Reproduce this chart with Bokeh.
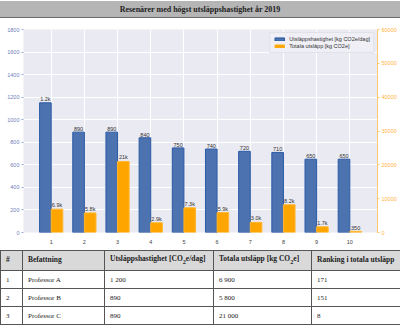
from bokeh.plotting import figure
from bokeh.models import (Range1d, LinearAxis, FixedTicker, Div, Legend, LegendItem,
                          ColumnDataSource)
from bokeh.layouts import column
from bokeh.embed import file_html
from bokeh.resources import INLINE

# ---- data ----
ranks = [1, 2, 3, 4, 5, 6, 7, 8, 9, 10]
rate = [1150, 890, 890, 840, 750, 740, 720, 710, 650, 650]          # kg CO2e/dag
rate_labels = ["1.2k", "890", "890", "840", "750", "740", "720", "710", "650", "650"]
total = [6900, 5800, 21000, 2900, 7300, 5900, 3000, 8200, 1700, 350]  # kg CO2e
total_labels = ["6.9k", "5.8k", "21k", "2.9k", "7.3k", "5.9k", "3.0k", "8.2k", "1.7k", "350"]
left_ticks = [0, 200, 400, 600, 800, 1000, 1200, 1400, 1600, 1800]
right_ticks = [0, 10000, 20000, 30000, 40000, 50000, 60000]

table_rows = [
    ["1", "Professor A", "1 200", "6 900", "171"],
    ["2", "Professor B", "890", "5 800", "151"],
    ["3", "Professor C", "890", "21 000", "8"],
]

title_text = "Resenärer med högst utsläppshastighet år 2019"
BW = 0.35

# ---- title bar ----
title_div = Div(
    text=f"<div style='width:400px;height:17px;background:#b5b5b5;border-bottom:1px solid #6a6a6a;"
         f"font-family:\"Liberation Serif\";font-weight:bold;font-size:8px;color:#222;"
         f"text-align:center;line-height:18px;'>{title_text}</div>",
    width=400, height=18, margin=0)

# ---- chart ----
p = figure(width=400, height=231, output_backend="svg", toolbar_location=None,
           x_range=Range1d(0.165, 10.835), y_range=Range1d(0, 1800),
           min_border_left=23, min_border_right=23, min_border_top=11, min_border_bottom=17,
           background_fill_color="#eaeaf2", border_fill_color="white", outline_line_color=None)
p.extra_y_ranges = {"right": Range1d(0, 60000)}

src = ColumnDataSource(dict(
    xb=[r - BW / 2 for r in ranks], xo=[r + BW / 2 for r in ranks],
    rate=rate, total=total, rl=rate_labels, tl=total_labels))

rb = p.vbar(x="xb", top="rate", width=BW, source=src, fill_color="#4c72b0",
            line_color="#2a5aa6", line_width=1)
ob = p.vbar(x="xo", top="total", width=BW, source=src, fill_color="#ffa500",
            line_color="#ffb733", line_width=1, y_range_name="right")

p.text(x="xb", y="rate", text="rl", source=src, text_align="center", text_baseline="bottom",
       y_offset=-1, text_font_size="5.5px", text_color="#333333")
p.text(x="xo", y="total", text="tl", source=src, text_align="center", text_baseline="bottom",
       y_offset=-1, text_font_size="5.5px", text_color="#333333", y_range_name="right")

p.grid.grid_line_color = "white"
p.grid.grid_line_width = 1
p.xaxis.ticker = FixedTicker(ticks=ranks)
p.xgrid.ticker = FixedTicker(ticks=ranks)
p.yaxis.ticker = FixedTicker(ticks=left_ticks)
p.ygrid.ticker = FixedTicker(ticks=left_ticks)

for ax in p.xaxis:
    ax.axis_line_color = None
    ax.major_tick_line_color = None
    ax.minor_tick_line_color = None
    ax.major_label_text_font_size = "5.5px"
    ax.major_label_text_color = "#444444"
    ax.major_label_standoff = 1

for ax in p.yaxis:
    ax.axis_line_color = None
    ax.major_tick_line_color = "#9aaad2"
    ax.major_tick_out = 2
    ax.major_tick_in = 0
    ax.minor_tick_line_color = None
    ax.major_label_text_font_size = "5.5px"
    ax.major_label_text_color = "#6f80b8"
    ax.major_label_standoff = 2

rax = LinearAxis(y_range_name="right", ticker=FixedTicker(ticks=right_ticks))
rax.axis_line_color = "#ffc870"
rax.major_tick_line_color = "#ffc870"
rax.major_tick_out = 2
rax.major_tick_in = 0
rax.minor_tick_line_color = None
rax.major_label_text_font_size = "5.5px"
rax.major_label_text_color = "#ffb340"
rax.major_label_standoff = 2
p.add_layout(rax, "right")

legend = Legend(items=[
    LegendItem(label="Utsläppshastighet [kg CO2e/dag]", renderers=[rb]),
    LegendItem(label="Totala utsläpp [kg CO2e]", renderers=[ob]),
], location="top_right")
legend.label_text_font_size = "5.5px"
legend.label_text_color = "#333333"
legend.glyph_height = 4
legend.glyph_width = 12
legend.label_height = 6
legend.label_standoff = 4
legend.spacing = 1
legend.padding = 3
legend.margin = 3
legend.background_fill_color = "#f0f0f5"
legend.background_fill_alpha = 0.9
legend.border_line_color = "#d4d4dc"
p.add_layout(legend)

# ---- table ----
cols = [22, 82, 109, 98, 89]
hdr = ["#", "Befattning", "Utsläppshastighet [CO<sub>2</sub>e/dag]",
       "Totala utsläpp [kg CO<sub>2</sub>e]", "Ranking i totala utsläpp"]
cell = ("border:1px solid #555;padding:0 0 0 5px;text-align:left;vertical-align:middle;"
        "color:#222222;white-space:nowrap;overflow:hidden;")
html = ["<table style='border-collapse:collapse;width:400px;table-layout:fixed;"
        "font-family:\"Liberation Serif\";font-size:7px;color:#222222;margin-top:1px;'>"]
html.append("<colgroup>" + "".join(f"<col style='width:{w}px'>" for w in cols) + "</colgroup>")
html.append("<tr style='height:20px;background:#d9d9d9;font-weight:bold;font-size:7.5px;'>" +
            "".join(f"<td style='{cell}'>{h}</td>" for h in hdr) + "</tr>")
for row in table_rows:
    html.append("<tr style='height:18px;background:white;'>" +
                "".join(f"<td style='{cell}'>{c}</td>" for c in row) + "</tr>")
html.append("</table>")
table_div = Div(text="".join(html), width=400, height=76, margin=0)

layout = column(title_div, p, table_div, spacing=0)
open("out.html", "w").write(file_html(layout, INLINE))
